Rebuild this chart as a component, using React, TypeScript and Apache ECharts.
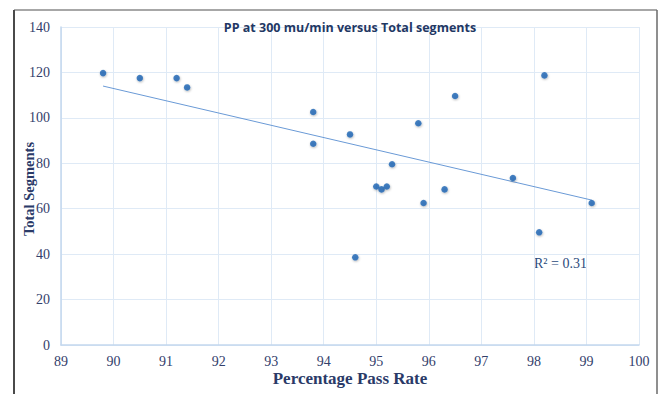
import React, { useEffect, useRef } from "react";
import * as echarts from "echarts";

const passRate = [89.8, 90.5, 91.2, 91.4, 93.8, 93.8, 94.5, 94.6, 95.0, 95.1, 95.2, 95.3, 95.8, 95.9, 96.3, 96.5, 97.6, 98.1, 98.2, 99.1];
const totalSegments = [119.7, 117.5, 117.5, 113.4, 102.6, 88.6, 92.7, 38.6, 69.8, 68.5, 69.8, 79.6, 97.6, 62.5, 68.5, 109.6, 73.5, 49.6, 118.7, 62.5];
const trendX = [89.8, 99.1];
const trendY = [114.0, 63.8];
const xTicks = [89, 100];
const yTicks = [0, 140];

const titleText = "PP at 300 mu/min versus Total segments";
const xName = "Percentage Pass Rate";
const yName = "Total Segments";
const r2Text = "R\u00B2 = 0.31";

export default function App() {
  const ref = useRef<HTMLDivElement>(null);
  useEffect(() => {
    if (!ref.current) return;
    const chart = echarts.init(ref.current, undefined, { renderer: "svg" });
    const labelColor = "#33406b";
    chart.setOption({
      animation: false,
      backgroundColor: "#ffffff",
      title: {
        text: titleText,
        left: 345,
        textAlign: "center",
        top: 16,
        textStyle: { fontFamily: "Open Sans", fontWeight: "bold", fontSize: 12.5, color: "#1f3864" },
      },
      grid: { left: 61, right: 21, top: 27, bottom: 49, containLabel: false },
      xAxis: {
        type: "value",
        min: xTicks[0],
        max: xTicks[1],
        interval: 1,
        name: xName,
        nameLocation: "middle",
        nameGap: 25,
        nameMoveOverlap: false,
        nameTextStyle: { fontFamily: "Liberation Serif", fontWeight: "bold", fontSize: 17, color: "#2a3a68" },
        axisLine: { show: true, lineStyle: { color: "#c3d7ee", width: 1.5 } },
        axisTick: { show: false },
        axisLabel: { fontFamily: "Liberation Serif", fontSize: 14, color: labelColor, margin: 9 },
        splitLine: { show: true, lineStyle: { color: "#dfeaf6", width: 1 } },
      },
      yAxis: {
        type: "value",
        min: yTicks[0],
        max: yTicks[1],
        interval: 20,
        axisLine: { show: true, lineStyle: { color: "#c3d7ee", width: 1.5 } },
        axisTick: { show: false },
        axisLabel: { fontFamily: "Liberation Serif", fontSize: 14, color: labelColor, margin: 11 },
        splitLine: { show: true, lineStyle: { color: "#dfeaf6", width: 1 } },
      },
      series: [
        {
          type: "line",
          data: trendX.map((x, i) => [x, trendY[i]]),
          showSymbol: false,
          symbol: "none",
          lineStyle: { color: "#6a9ad6", width: 1 },
          z: 2,
        },
        {
          type: "scatter",
          data: passRate.map((x, i) => [x, totalSegments[i]]),
          symbolSize: 6.5,
          itemStyle: {
            color: "#1a63b3",
            shadowBlur: 2,
            shadowColor: "rgba(0,0,0,0.35)",
            shadowOffsetX: 0.5,
            shadowOffsetY: 1,
          },
          z: 3,
        },
      ],
      graphic: [
        { type: "line", shape: { x1: 14, y1: 10, x2: 657, y2: 10 }, style: { stroke: "#8a8a8a", lineWidth: 1.5 } },
        { type: "line", shape: { x1: 14, y1: 10, x2: 14, y2: 394 }, style: { stroke: "#4a4a4a", lineWidth: 2 } },
        { type: "line", shape: { x1: 657, y1: 10, x2: 657, y2: 394 }, style: { stroke: "#6a6a6a", lineWidth: 1.5 } },
        {
          type: "text",
          x: 29,
          y: 189,
          rotation: Math.PI / 2,
          style: {
            text: yName,
            fontFamily: "Liberation Serif",
            fontWeight: "bold",
            fontSize: 14.5,
            fill: "#2a3a68",
            align: "center",
            verticalAlign: "middle",
          },
        },
        {
          type: "text",
          x: 534,
          y: 263,
          style: {
            text: r2Text,
            fontFamily: "Liberation Serif",
            fontSize: 14,
            fill: "#2c4a7c",
            verticalAlign: "middle",
          },
        },
      ],
    });
    return () => chart.dispose();
  }, []);
  return <div ref={ref} style={{ position: "absolute", left: 0, top: 0, width: 660, height: 394 }} />;
}
